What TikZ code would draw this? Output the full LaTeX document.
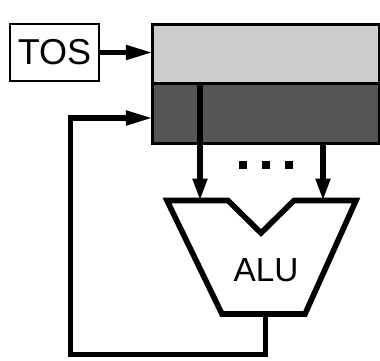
\documentclass[tikz,border=0pt]{standalone}
\usepackage{fontspec}
\setmainfont{Liberation Sans}
\usetikzlibrary{arrows.meta}
\definecolor{regLight}{HTML}{CDCDCD}
\definecolor{regDark}{HTML}{555555}
\begin{document}
\begin{tikzpicture}[x=0.75pt,y=-0.75pt,
  wire/.style={line width=3.8pt,line join=miter},
  harrow/.style={wire,-{Triangle[length=20pt,width=10.5pt]}},
  varrow/.style={wire,-{Triangle[length=16.5pt,width=10.5pt]}},
  regbox/.style={draw=black,line width=1.6pt,minimum width=227*0.75pt,inner sep=0pt,outer sep=0pt},
  tosbox/.style={draw=black,line width=2.2pt,minimum width=89*0.75pt,minimum height=57*0.75pt,inner sep=0pt,font=\fontsize{27pt}{27pt}\selectfont},
  dotsq/.style={fill=black,minimum size=8*0.75pt,inner sep=0pt},
  alushape/.style={draw=black,line width=4.2pt,line join=miter},
]
\useasboundingbox (0,0) rectangle (380,361);
% register file
\node[regbox,fill=regLight,minimum height=59*0.75pt,anchor=north west] (top) at (152.5,24.5) {};
\node[regbox,fill=regDark,minimum height=60*0.75pt,anchor=north west] (bot) at (152.5,83.5) {};
% TOS
\node[tosbox] (tos) at (54.5,52.5) {TOS};
% ALU
\coordinate (inA) at (200,200.5);
\coordinate (inB) at (323,200.5);
\coordinate (aluout) at (265.5,314);
\draw[alushape] (167,200.5) -- (228,200.5) -- (261,233) -- (294,200.5) -- (356,200.5)
  -- (305,314) -- (222,314) -- cycle;
\node[font=\fontsize{25pt}{25pt}\selectfont] (alu) at (266,270) {ALU};
% dots
\node[dotsq] (d1) at (243,165) {};
\node[dotsq] (d2) at (266,165) {};
\node[dotsq] (d3) at (289,165) {};
% arrows
\draw[harrow] (tos.east) -- (tos.east -| top.west);
\coordinate (srcA) at (200,83.5);
\draw[varrow] (srcA) -- (inA);
\draw[varrow] (bot.south -| inB) -- (inB);
\coordinate (fbL) at (70.5,118);
\draw[harrow] (aluout) -- (265.5,354.5) -- (70.5,354.5) -- (fbL) -- (fbL -| bot.west);
\end{tikzpicture}
\end{document}
